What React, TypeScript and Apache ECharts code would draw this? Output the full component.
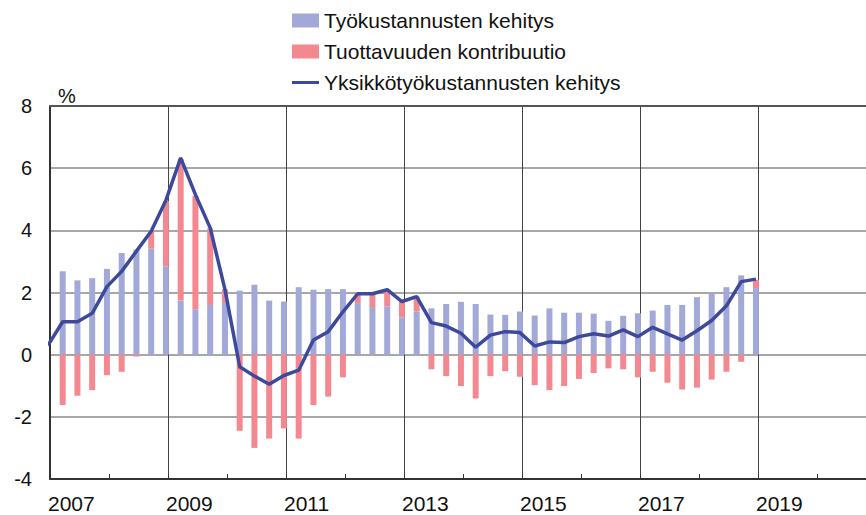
import React, { useEffect, useRef } from "react";
import * as echarts from "echarts";

// Quarters of the bars (2007Q1 – 2018Q4)
const quarters: string[] = [
  "2007Q1", "2007Q2", "2007Q3", "2007Q4",
  "2008Q1", "2008Q2", "2008Q3", "2008Q4",
  "2009Q1", "2009Q2", "2009Q3", "2009Q4",
  "2010Q1", "2010Q2", "2010Q3", "2010Q4",
  "2011Q1", "2011Q2", "2011Q3", "2011Q4",
  "2012Q1", "2012Q2", "2012Q3", "2012Q4",
  "2013Q1", "2013Q2", "2013Q3", "2013Q4",
  "2014Q1", "2014Q2", "2014Q3", "2014Q4",
  "2015Q1", "2015Q2", "2015Q3", "2015Q4",
  "2016Q1", "2016Q2", "2016Q3", "2016Q4",
  "2017Q1", "2017Q2", "2017Q3", "2017Q4",
  "2018Q1", "2018Q2", "2018Q3", "2018Q4",
];
// Empty quarters shown on the axis after the data (up to the end of 2020)
const emptyQuarters: string[] = [
  "2019Q1", "2019Q2", "2019Q3", "2019Q4",
  "2020Q1", "2020Q2", "2020Q3", "2020Q4",
];

// Työkustannusten kehitys (%)
const labourCost: number[] = [
  2.68, 2.39, 2.46, 2.76,
  3.27, 3.38, 3.41, 2.84,
  1.74, 1.46, 1.60, 1.66,
  2.06, 2.25, 1.74, 1.71,
  2.17, 2.09, 2.11, 2.11,
  1.66, 1.53, 1.55, 1.20,
  1.39, 1.49, 1.63, 1.70,
  1.63, 1.29, 1.28, 1.39,
  1.26, 1.49, 1.35, 1.35,
  1.32, 1.09, 1.25, 1.33,
  1.42, 1.60, 1.60, 1.85,
  1.98, 2.17, 2.55, 2.14,
];

// Tuottavuuden kontribuutio (%)
const productivity: number[] = [
  -1.62, -1.32, -1.14, -0.66,
  -0.55, -0.06, 0.56, 2.10,
  4.55, 3.65, 2.46, 0.44,
  -2.45, -3.00, -2.70, -2.37,
  -2.70, -1.62, -1.35, -0.73,
  0.30, 0.42, 0.54, 0.51,
  0.48, -0.47, -0.69, -1.01,
  -1.41, -0.69, -0.53, -0.71,
  -0.98, -1.14, -1.01, -0.78,
  -0.59, -0.44, -0.47, -0.73,
  -0.55, -0.90, -1.12, -1.06,
  -0.80, -0.55, -0.23, 0.27,
];

// Yksikkötyökustannusten kehitys (%), starts one quarter earlier (2006Q4)
const lineQuarters: string[] = ["2006Q4", ...quarters];
const unitLabourCost: number[] = [
  0.30,
  1.06, 1.06, 1.33, 2.19,
  2.68, 3.33, 3.97, 4.97,
  6.33, 5.15, 4.08, 2.10,
  -0.39, -0.69, -0.95, -0.67,
  -0.50, 0.47, 0.74, 1.38,
  1.96, 1.96, 2.09, 1.71,
  1.87, 1.03, 0.92, 0.69,
  0.24, 0.63, 0.74, 0.71,
  0.28, 0.41, 0.39, 0.58,
  0.67, 0.60, 0.80, 0.58,
  0.88, 0.67, 0.47, 0.77,
  1.10, 1.57, 2.35, 2.43,
];

const yTicks = { min: -4, max: 8, step: 2 };
const xYears = { min: 2007, max: 2021, step: 2 };

const SERIES_NAMES = [
  "Työkustannusten kehitys",
  "Tuottavuuden kontribuutio",
  "Yksikkötyökustannusten kehitys",
];

const FONT = "'Liberation Sans', Arial, sans-serif";
const QUARTER_SHIFT = 0.215; // position of a quarter's mark within its quarter on the time axis
const BAR_W = 6;
const BAR_GAP = "77%";

function toX(q: string): number {
  const year = Number(q.slice(0, 4));
  const n = Number(q.slice(5));
  return year + (n - 1) * 0.25 + QUARTER_SHIFT;
}

export default function App() {
  const ref = useRef<HTMLDivElement>(null);

  useEffect(() => {
    if (!ref.current) return;
    const chart = echarts.init(ref.current, undefined, { renderer: "svg" });

    const option: any = {
      animation: false,
      backgroundColor: "#ffffff",
      grid: { left: 50, right: -10, top: 106, bottom: 36, outerBoundsMode: "none", containLabel: false },
      legend: {
        orient: "vertical",
        left: 287,
        top: 5,
        itemWidth: 27,
        itemHeight: 14,
        itemGap: 10,
        textStyle: { fontFamily: FONT, fontSize: 21, color: "#111" },
        data: [
          { name: SERIES_NAMES[0], icon: "rect" },
          { name: SERIES_NAMES[1], icon: "rect" },
          { name: SERIES_NAMES[2], icon: "path://M0 0H27V3H0Z" },
        ],
      },
      graphic: [
        {
          type: "text",
          left: 58,
          top: 86,
          style: { text: "%", font: `20px ${FONT}`, fill: "#111" },
        },
      ],
      xAxis: [
        {
          type: "value",
          min: xYears.min,
          max: xYears.max,
          interval: xYears.step,
          axisLine: { show: true, onZero: false, lineStyle: { color: "#333", width: 2 } },
          axisTick: { show: true, inside: true, length: 5, lineStyle: { color: "#333" } },
          minorTick: { show: true, splitNumber: 2, length: 5, lineStyle: { color: "#333", width: 1 } },
          axisLabel: {
            fontFamily: FONT,
            fontSize: 21,
            lineHeight: 19,
            color: "#111",
            align: "left",
            margin: 15,
            padding: [0, 0, 0, -2],
            formatter: (v: number) => (v < xYears.max ? String(v) : ""),
          },
          splitLine: { show: true, lineStyle: { color: "#444", width: 1 } },
        },
        {
          type: "value",
          position: "top",
          min: xYears.min,
          max: xYears.max,
          axisLine: { show: true, onZero: false, lineStyle: { color: "#555", width: 2 } },
          axisTick: { show: false },
          axisLabel: { show: false },
          splitLine: { show: false },
        },
        {
          type: "category",
          show: false,
          boundaryGap: true,
          data: [...quarters, ...emptyQuarters],
          axisLine: { onZero: false },
          splitLine: { show: false },
        },
      ],
      yAxis: {
        type: "value",
        min: yTicks.min,
        max: yTicks.max,
        interval: yTicks.step,
        axisLine: { show: true, onZero: false, lineStyle: { color: "#333", width: 2 } },
        axisTick: { show: false },
        axisLabel: { fontFamily: FONT, fontSize: 20, color: "#111", margin: 18 },
        splitLine: { show: true, lineStyle: { color: "#8a8a8a", width: 1.5 } },
      },
      series: [
        {
          // empty spacer column: places the data bars late in each quarter
          name: "_spacer",
          type: "bar",
          xAxisIndex: 2,
          stack: "spacer",
          barWidth: BAR_W,
          barGap: BAR_GAP,
          silent: true,
          data: [],
        },
        {
          name: SERIES_NAMES[0],
          type: "bar",
          xAxisIndex: 2,
          stack: "c",
          barWidth: BAR_W,
          barGap: BAR_GAP,
          itemStyle: { color: "#a2a8d7" },
          data: labourCost,
        },
        {
          name: SERIES_NAMES[1],
          type: "bar",
          xAxisIndex: 2,
          stack: "c",
          barWidth: BAR_W,
          barGap: BAR_GAP,
          itemStyle: { color: "#f38890" },
          data: productivity,
        },
        {
          name: SERIES_NAMES[2],
          type: "line",
          xAxisIndex: 0,
          symbol: "none",
          z: 5,
          clip: true,
          lineStyle: { color: "#3d4a9c", width: 3.5 },
          itemStyle: { color: "#3d4a9c" },
          data: lineQuarters.map((q, i) => [toX(q), unitLabourCost[i]]),
        },
      ],
    };

    chart.setOption(option);
    return () => chart.dispose();
  }, []);

  return (
    <div
      ref={ref}
      style={{ position: "absolute", left: 0, top: 0, width: 866, height: 515 }}
    />
  );
}
